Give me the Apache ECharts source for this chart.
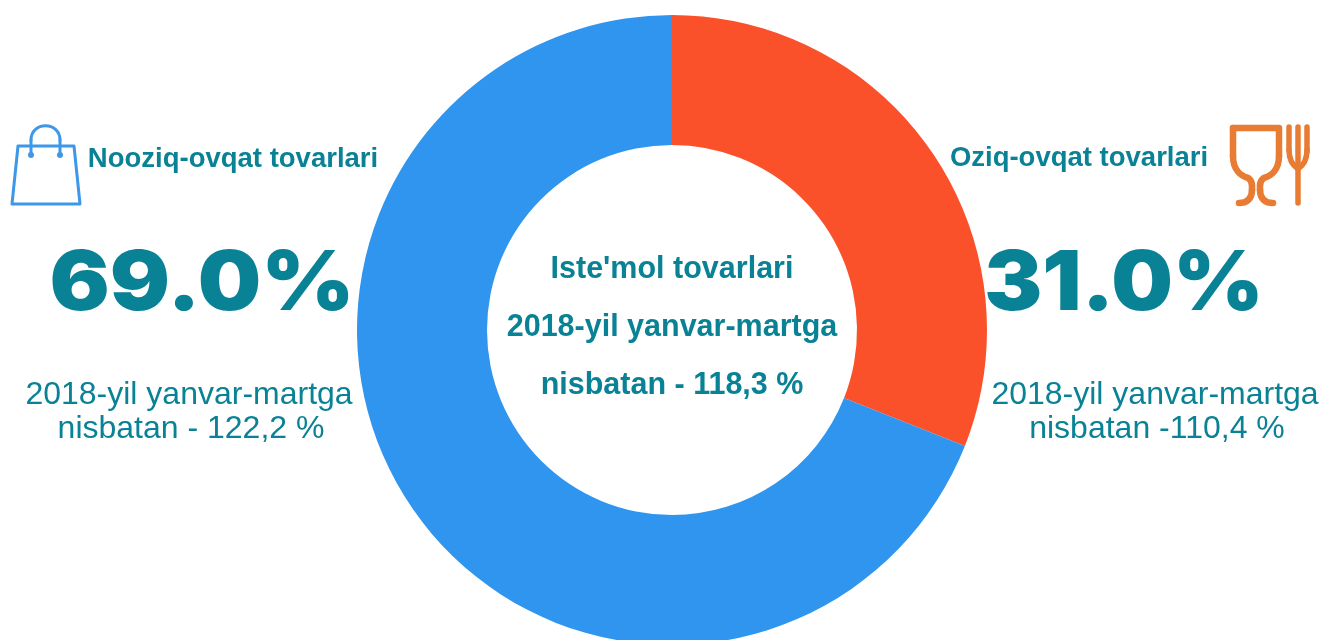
<!DOCTYPE html>
<html><head><meta charset="utf-8">
<style>html,body{margin:0;padding:0;background:#fff}#c{width:1323px;height:640px}</style>
<script src="https://cdn.jsdelivr.net/npm/echarts@6/dist/echarts.min.js"></script>
</head><body><div id="c"></div>
<script>
const categories = ["Oziq-ovqat tovarlari", "Nooziq-ovqat tovarlari"];
const shares = [31.0, 69.0];
const sliceColors = ["#FB512B", "#3095EE"];
const shareLabels = ["31.0%", "69.0%"];
const centerLines = ["Iste'mol tovarlari", "2018-yil yanvar-martga", "nisbatan - 118,3 %"];
const leftNote = ["2018-yil yanvar-martga", "nisbatan - 122,2 %"];
const rightNote = ["2018-yil yanvar-martga", "nisbatan -110,4 %"];

const teal = "#0A8296";
const sans = "Liberation Sans";
const blue = "#3F97EA";
const orange = "#E87C33";
function txt(x, y, text, size, weight, family, scaleX) {
  return { type: "text", x, y, scaleX: scaleX || 1, silent: true, z: 10, style: {
    text, x: 0, y: 0, fill: teal, align: "center", verticalAlign: "middle",
    font: `${weight} ${size}px "${family || sans}"` } };
}
function stroke(color, w) { return { fill: "none", stroke: color, lineWidth: w, lineCap: "round", lineJoin: "round" }; }
function poly(points, color, w) { return { type: "polyline", silent: true, shape: { points }, style: stroke(color, w) }; }
function curve(a, c1, c2, b, color, w) {
  return { type: "bezierCurve", silent: true,
    shape: { x1: a[0], y1: a[1], cpx1: c1[0], cpy1: c1[1], cpx2: c2[0], cpy2: c2[1], x2: b[0], y2: b[1] },
    style: stroke(color, w) };
}
const chart = echarts.init(document.getElementById("c"), null, { renderer: "canvas" });
chart.setOption({
  animation: false,
  backgroundColor: "#fff",
  series: [{
    type: "pie", silent: true, center: [672, 330], radius: [185, 315], startAngle: 90,
    clockwise: true, label: { show: false }, labelLine: { show: false },
    data: categories.map((name, i) => ({ name, value: shares[i], itemStyle: { color: sliceColors[i] } }))
  }],
  graphic: [
    txt(233, 159, categories[1], 27.5, "bold"),
    txt(1079, 158, categories[0], 27.5, "bold"),
    txt(202, 285, shareLabels[1], 82, "900", "Inter", 1.09),
    txt(1124, 285, shareLabels[0], 82, "900", "Inter", 1.06),
    txt(189, 395, leftNote[0], 32, "normal"),
    txt(191, 429, leftNote[1], 32, "normal"),
    txt(1155, 395, rightNote[0], 32, "normal"),
    txt(1157, 429, rightNote[1], 32, "normal"),
    txt(672, 270, centerLines[0], 30.5, "bold"),
    txt(672, 328, centerLines[1], 30.5, "bold"),
    txt(672, 386, centerLines[2], 30.5, "bold"),
    // shopping bag icon
    { type: "polygon", silent: true, shape: { points: [[18,146],[74,146],[80,204],[12,204]] },
      style: stroke(blue, 3) },
    poly([[31,155],[31,140]], blue, 3),
    poly([[60,155],[60,140]], blue, 3),
    curve([31,140],[31,121],[60,121],[60,140], blue, 3),
    { type: "circle", silent: true, shape: { cx: 31, cy: 155, r: 3 }, style: { fill: blue } },
    { type: "circle", silent: true, shape: { cx: 60, cy: 155, r: 3 }, style: { fill: blue } },
    // glass icon
    poly([[1233,128],[1279,128],[1279,156]], orange, 6.5),
    poly([[1233,128],[1233,156]], orange, 6.5),
    curve([1233,156],[1233,170],[1241,176],[1248,178], orange, 6.5),
    curve([1279,156],[1279,170],[1271,176],[1264,178], orange, 6.5),
    curve([1248,178],[1253,181],[1252,186],[1252,190], orange, 6.5),
    curve([1264,178],[1259,181],[1260,186],[1260,190], orange, 6.5),
    curve([1252,190],[1252,200],[1246,203],[1239,203], orange, 6.5),
    curve([1260,190],[1260,200],[1266,203],[1273,203], orange, 6.5),
    // fork icon
    poly([[1289,127],[1289,150]], orange, 5.5),
    poly([[1298,127],[1298,203]], orange, 5.5),
    poly([[1307,127],[1307,152]], orange, 5.5),
    curve([1289,150],[1289,162],[1295,167],[1298,169], orange, 5.5),
    curve([1307,150],[1307,162],[1301,167],[1298,169], orange, 5.5)
  ]
});
</script></body></html>
